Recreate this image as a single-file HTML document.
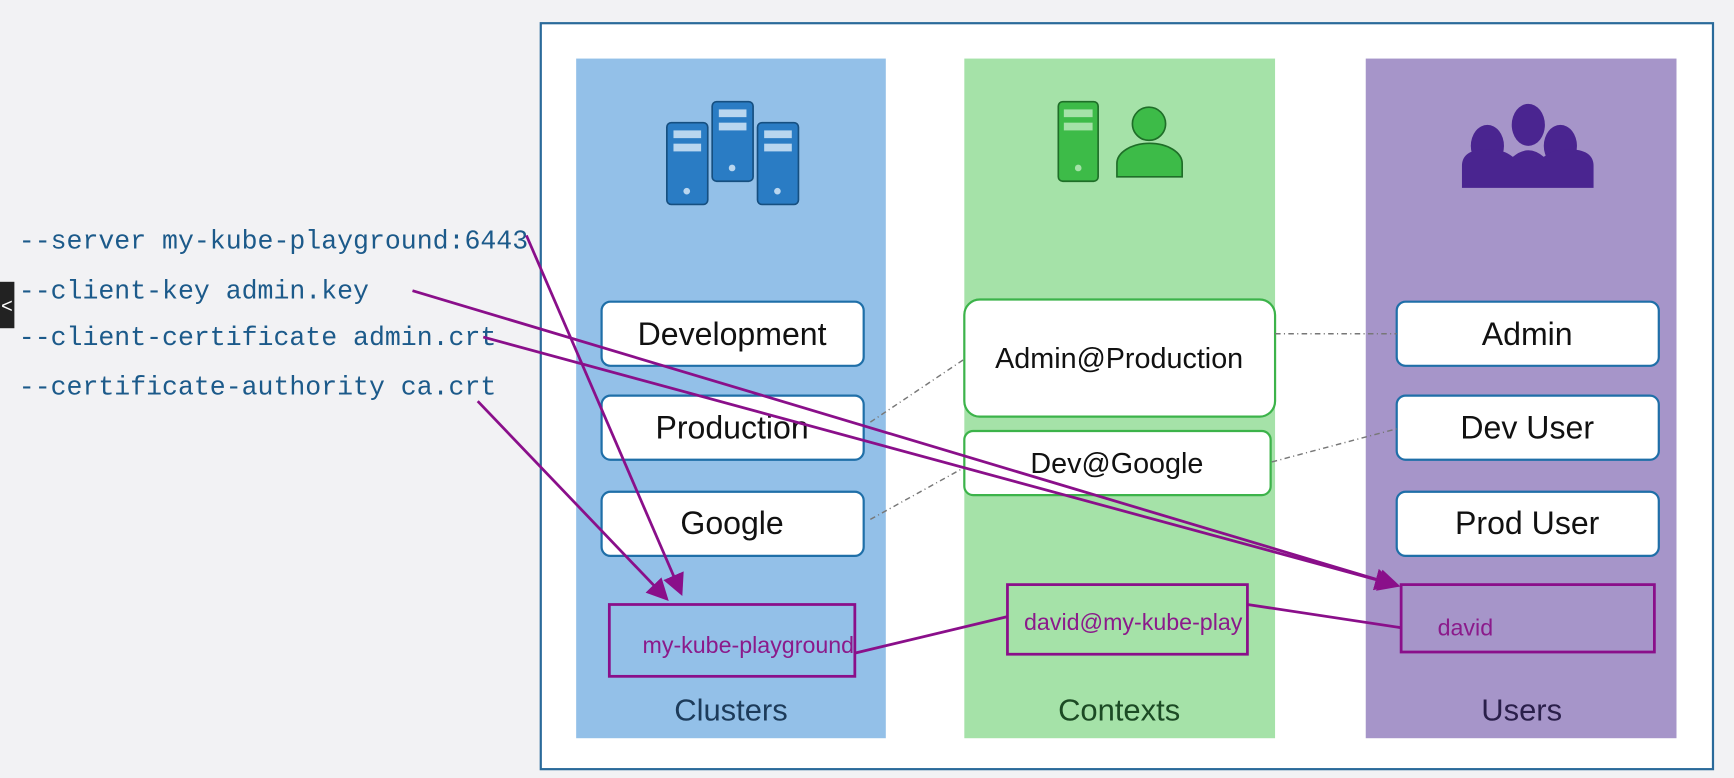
<!DOCTYPE html>
<html><head><meta charset="utf-8"><style>
html,body{margin:0;padding:0;background:#f2f2f4;}
svg{display:block}
</style></head><body>
<svg width="1734" height="778" viewBox="0 0 1568 704" preserveAspectRatio="none" xmlns="http://www.w3.org/2000/svg">
<defs>
<marker id="ah" markerWidth="8" markerHeight="8" refX="7" refY="4" orient="auto" markerUnits="strokeWidth">
<path d="M0,0 L8,4 L0,8 Z" fill="#8a0f8a"/></marker>
</defs>
<rect width="1568" height="704" fill="#f2f2f4"/>
<rect x="0" y="255" width="13" height="42" fill="#222"/>
<text x="1" y="283" font-family="Liberation Sans, sans-serif" font-size="18" fill="#fff">&lt;</text>
<g font-family="Liberation Mono, monospace" font-size="24" fill="#1c5a8a">
<text x="17" y="225">--server my-kube-playground:6443</text>
<text x="17" y="270">--client-key admin.key</text>
<text x="17" y="312">--client-certificate admin.crt</text>
<text x="17" y="357">--certificate-authority ca.crt</text>
</g>
<rect x="489" y="21" width="1060" height="675" fill="#fff" stroke="#2a6a9a" stroke-width="2"/>
<rect x="521" y="53" width="280" height="615" fill="#93c0e8"/>
<rect x="872" y="53" width="281" height="615" fill="#a5e2a8"/>
<rect x="1235" y="53" width="281" height="615" fill="#a695c9"/>
<!-- server icons -->
<g fill="#2a7cc4" stroke="#164f80" stroke-width="1.5">
<rect x="603" y="111" width="37" height="74" rx="4"/>
<rect x="644" y="92" width="37" height="72" rx="4"/>
<rect x="685" y="111" width="37" height="74" rx="4"/>
</g>
<g fill="#b9d6ef">
<rect x="609" y="118" width="25" height="7"/><rect x="609" y="130" width="25" height="7"/>
<rect x="650" y="99" width="25" height="7"/><rect x="650" y="111" width="25" height="7"/>
<rect x="691" y="118" width="25" height="7"/><rect x="691" y="130" width="25" height="7"/>
<circle cx="621" cy="173" r="3"/><circle cx="662" cy="152" r="3"/><circle cx="703" cy="173" r="3"/>
</g>
<g fill="#3dbb48" stroke="#1f6e28" stroke-width="1.5">
<rect x="957" y="92" width="36" height="72" rx="4"/>
<circle cx="1039" cy="112" r="15"/>
<path d="M1010,160 L1010,148 A29,18 0 0 1 1069,148 L1069,160 Z"/>
</g>
<g fill="#a5e2a8"><rect x="962" y="99" width="26" height="7"/><rect x="962" y="111" width="26" height="7"/><circle cx="975" cy="152" r="3"/></g>
<g fill="#4a2590">
<ellipse cx="1345" cy="132" rx="15" ry="19"/><ellipse cx="1411" cy="132" rx="15" ry="19"/><ellipse cx="1382" cy="113" rx="15" ry="19"/>
<path d="M1322,170 L1322,150 Q1322,135 1345,135 Q1360,135 1368,142 Q1382,130 1396,142 Q1404,135 1418,135 Q1441,135 1441,150 L1441,170 Z"/>
</g>
<!-- boxes -->
<g fill="#fff" stroke="#1f6fa8" stroke-width="2">
<rect x="544" y="273" width="237" height="58" rx="8"/>
<rect x="544" y="358" width="237" height="58" rx="8"/>
<rect x="544" y="445" width="237" height="58" rx="8"/>
<rect x="1263" y="273" width="237" height="58" rx="8"/>
<rect x="1263" y="358" width="237" height="58" rx="8"/>
<rect x="1263" y="445" width="237" height="58" rx="8"/>
</g>
<g fill="#fff" stroke="#3cb34a" stroke-width="2">
<rect x="872" y="271" width="281" height="106" rx="14"/>
<rect x="872" y="390" width="277" height="58" rx="8"/>
</g>
<g font-family="Liberation Sans, sans-serif" font-size="29" fill="#111" text-anchor="middle">
<text x="662" y="312">Development</text>
<text x="662" y="397">Production</text>
<text x="662" y="483">Google</text>
<text x="1381" y="312">Admin</text>
<text x="1381" y="397">Dev User</text>
<text x="1381" y="483">Prod User</text>
<text x="1012" y="333" font-size="26">Admin@Production</text>
<text x="1010" y="428" font-size="26">Dev@Google</text>
</g>
<g font-family="Liberation Sans, sans-serif" font-size="28" text-anchor="middle">
<text x="661" y="652" fill="#1d3b5a">Clusters</text>
<text x="1012" y="652" fill="#1c4a24">Contexts</text>
<text x="1376" y="652" fill="#2a1f4a">Users</text>
</g>
<g stroke="#777" stroke-width="1.3" stroke-dasharray="5,3,1,3" fill="none">
<line x1="787" y1="382" x2="872" y2="325"/>
<line x1="787" y1="470" x2="872" y2="423"/>
<line x1="1153" y1="302" x2="1263" y2="302"/>
<line x1="1150" y1="418" x2="1263" y2="388"/>
</g>
<g fill="none" stroke="#8a0f8a" stroke-width="2.5">
<rect x="551" y="547" width="222" height="65"/>
<rect x="911" y="529" width="217" height="63"/>
<rect x="1267" y="529" width="229" height="61"/>
<line x1="773" y1="591" x2="911" y2="558"/>
<line x1="1128" y1="547" x2="1267" y2="568"/>
<line x1="476" y1="213" x2="616" y2="537" marker-end="url(#ah)"/>
<line x1="373" y1="263" x2="1264" y2="530" marker-end="url(#ah)"/>
<line x1="437" y1="305" x2="1261" y2="529" marker-end="url(#ah)"/>
<line x1="432" y1="363" x2="603" y2="542" marker-end="url(#ah)"/>
</g>
<g font-family="Liberation Sans, sans-serif" font-size="21" fill="#8b1a8b">
<text x="581" y="591">my-kube-playground</text>
<text x="926" y="570">david@my-kube-play</text>
<text x="1300" y="575">david</text>
</g>
</svg>
</body></html>
